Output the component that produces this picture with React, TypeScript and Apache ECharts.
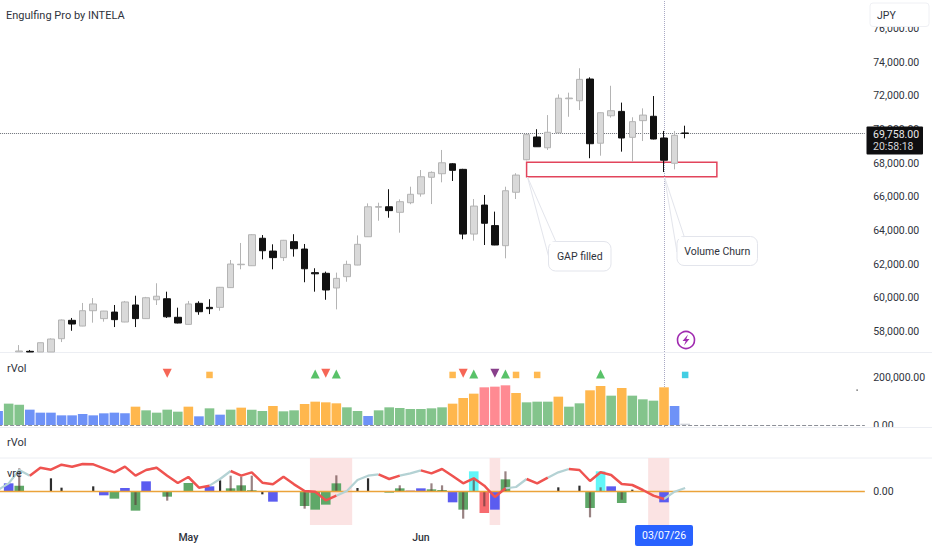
import React, { useEffect, useRef } from "react";
import * as echarts from "echarts";

const days = [
  "Apr 7","Apr 8","Apr 9","Apr 10","Apr 13","Apr 14","Apr 15","Apr 16","Apr 17","Apr 20","Apr 21","Apr 22","Apr 23","Apr 24","Apr 27","Apr 28","Apr 29","Apr 30",
  "May 1","May 4","May 5","May 6","May 7","May 8","May 11","May 12","May 13","May 14","May 15","May 18","May 19","May 20","May 21","May 22","May 25","May 26","May 27","May 28","May 29",
  "Jun 1","Jun 2","Jun 3","Jun 4","Jun 5","Jun 8","Jun 9","Jun 10","Jun 11","Jun 12","Jun 15","Jun 16","Jun 17","Jun 18","Jun 19","Jun 22","Jun 23","Jun 24","Jun 25","Jun 26","Jun 29","Jun 30",
  "Jul 1","Jul 2","Jul 3","Jul 6","Jul 7",
  "Jul 8","Jul 9","Jul 10","Jul 13","Jul 14","Jul 15","Jul 16","Jul 17","Jul 20","Jul 21","Jul 22","Jul 23","Jul 24","Jul 27","Jul 28","Jul 29","Jul 30",
];
const tickNames: Record<string, string> = { "May 1": "May", "Jun 2": "Jun", "Jul 3": "03/07/26" };
const priceTicks = [58000, 60000, 62000, 64000, 66000, 68000, 70000, 72000, 74000, 76000];
const volumeTicks = [0, 200000];
const lowerTicks = [0];
const lastPrice = 69758;
const crosshairDay = "Jul 3";

// open, close, low, high
const candles: any[] = [
  "-","-",
  [56800,56850,56790,57200],[56830,56790,56790,56910],[56790,57340,56790,57350],[56790,57560,56790,57600],
  [57580,58690,57380,58720],[58670,58450,58050,58810],[58330,59240,58320,59700],[59240,59640,58530,59990],
  [58770,59220,58590,59230],[59160,58710,58270,59580],[58570,59760,58560,59820],[59580,58770,58270,60130],
  [58770,60010,58760,60060],[59890,60100,59580,60870],[59950,58880,58810,60370],[58850,58510,58490,59420],
  [58430,59640,58420,59820],[59680,59180,59000,59800],[59440,59360,59040,59920],[59440,60630,59240,60650],
  [60610,62010,60590,62250],[61970,62000,61700,63260],[61910,63750,61900,63780],[63540,62800,62290,63730],
  [62780,62390,61700,63180],[62390,63420,62190,63440],[63340,62920,62450,63780],[62900,61730,60930,63200],
  [61500,61430,60370,61760],[61460,60470,59890,61560],[60590,61160,59320,61500],[61260,61990,60960,62210],
  [61950,63180,61940,63710],[63630,65410,63620,65610],[65380,65420,64580,65650],[65410,65180,64760,66450],
  [65080,65710,63870,65850],[65650,66150,65560,66600],[66170,67190,66010,67590],[67160,67450,65570,67510],
  [67370,68020,66860,68780],[67960,67570,66940,68000],[67630,63790,63480,67660],[63790,65450,63400,65870],
  [65510,64430,63140,66110],[64290,63140,63130,65120],[63100,66360,62350,66600],[66270,67290,65870,67400],
  [68200,69690,68160,69710],[69550,68970,68960,70010],[68910,69830,68780,70850],[69800,71850,69790,72080],
  [71820,71860,70750,72180],[71700,72970,71150,73630],[72990,69150,68290,73090],[69180,70990,68440,71010],
  [70810,71110,70700,72590],[71070,69490,68680,71590],[69530,70460,68080,70720],[70520,70850,69310,71250],
  [70780,69430,69410,71980],[69490,68170,67470,69910],[67990,69650,67630,69910],[69790,69758,69470,70220],
];

const volumes = [
  59700,90900,86550,65280,52500,52500,41100,41100,46800,41100,49650,52500,49650,78000,62400,52500,65280,56700,78000,36900,
  70950,43980,65280,73800,65280,59610,80880,58200,62400,89400,99300,96480,92250,75210,59610,38310,62400,75210,72360,68100,
  68100,70950,75210,90810,114900,133380,160350,163200,168870,136200,96480,99300,99300,120600,78000,92250,147600,166020,124860,157500,
  124860,109260,103590,160350,80880,5700,
];
// l = quiet, n = normal, h = high, x = extreme, f = forming
const volumeClass = "lnnllllllllllhnnnnhlnlnhnnhnnhhhhnnlnnnnnnnhhhxxxhnnnhnnhhnhnnnhlf";

const signalsUp = [30, 32, 45, 48, 57];
const signalsDown = [16, 31, 44];
const signalsPurple = [47];
const signalsSquare = [20, 43, 49, 51];
const signalsCyan = [65];
const signalUpLevel = 217000;
const signalDownLevel = 220000;
const signalSquareLevel = 213000;

const vreGreen = [[2,17],[11,-22],[13,-58],[16,-16],[18,25],[22,9],[23,18],[24,3],[29,-44],[30,-55],[31,-40],[32,24],[37,-4],[38,9],[41,6],[42,4],[44,-55],[48,36],[56,-50],[59,-35]];
const vreBlue = [[1,24],[10,-12],[12,10],[14,30],[20,15],[26,-31],[40,9],[43,-33],[47,-55],[58,15],[63,-33]];
const vreCyan = [[45,60],[57,60]];
const vreRed = [[46,-65]];
const vreMuted = [[39,3]];
const vreThin = [[2,69],[5,39],[6,11],[9,15],[13,-41],[16,-28],[21,33],[22,47],[23,44],[24,47],[25,-9],[29,-52],[32,48],[34,10],[35,39],[38,18],[41,24],[42,18],[44,-82],[45,36],[46,-45],[48,60],[53,12],[55,17],[56,-78],[57,12],[59,-25],[60,5]];

const vreLine = [4,24,64,47,71,65,80,74,82,81,69,57,74,47,64,71,47,25,43,11,17,37,61,47,57,26,21,44,21,1,-1,-27,-13,1,34,47,51,37,47,54,63,54,67,46,24,39,17,-17,9,13,37,24,41,57,67,64,31,57,49,22,19,4,-13,-23,-1,10];
// tone of the segment leaving each point: r = red, s = slate
const vreTone = "sssrrrrrsrrrrrsrrrrrssrrrrrrrrrrssssrrssrrrrrrrrssrrssrrrrrrrrrss";
const alertBands = [[30, 33], [47, 47], [62, 63]];

const fmt = (v: number) => v.toLocaleString("en-US", { minimumFractionDigits: 2, maximumFractionDigits: 2 });

const BAND = 10.57;
const LEFT = -7.185;
const FONT = "Roboto, 'Noto Sans', sans-serif";
const AXIS_TEXT = "#2f333c";
const CROSS = "#a9a9c4";
const NONE = { show: false };

const classColor: Record<string, string> = { l: "#6e92f7", n: "#83c48c", h: "#ffb74d", x: "#ff8a92", f: "#cfd2d8" };

function App() {
  const ref = useRef<HTMLDivElement>(null);
  useEffect(() => {
    const chart = echarts.init(ref.current!, null, { renderer: "svg" });
    const crossIdx = days.indexOf(crosshairDay);
    const lastIdx = days.length - 1;
    const grids = [
      { left: LEFT, top: 0, width: BAND * days.length, height: 352, outerBoundsMode: "none" },
      { left: LEFT, top: 353, width: BAND * days.length, height: 74, outerBoundsMode: "none" },
      { left: LEFT, top: 458, width: BAND * days.length, height: 67, outerBoundsMode: "none" },
    ];
    const xBase = (gridIndex: number) => ({
      type: "category" as const,
      data: days,
      gridIndex,
      boundaryGap: true,
      axisLine: NONE,
      axisTick: NONE,
      axisLabel: NONE,
      splitLine: NONE,
    });
    const yBase = (gridIndex: number, min: number, max: number, ticks: number[]) => ({
      type: "value" as const,
      gridIndex,
      min,
      max,
      position: "right" as const,
      axisLine: NONE,
      axisTick: NONE,
      splitLine: NONE,
      axisLabel: {
        customValues: ticks,
        margin: 3,
        color: AXIS_TEXT,
        fontSize: 10.5,
        fontFamily: FONT,
        formatter: (v: number) => fmt(v),
      },
    });
    const crossLine = {
      silent: true,
      symbol: "none",
      label: NONE,
      z: 0,
      lineStyle: { color: CROSS, type: "dotted", width: 1 },
      data: [{ xAxis: crossIdx }],
    };
    const wideMap = new Set<number>();
    const wideData: any[] = [];
    const addWide = (rows: number[][], color: string) =>
      rows.forEach(([k, v]) => {
        wideMap.add(k);
        wideData.push({ value: [k, v], itemStyle: { color } });
      });
    addWide(vreGreen, "#5fa868");
    addWide(vreBlue, "#5b5cf0");
    addWide(vreCyan, "#62f6f8");
    addWide(vreRed, "#f76b6f");
    addWide(vreMuted, "#b89bc0");
    const toned = (tone: string) =>
      vreLine.map((v, i) => (vreTone[i] === tone || (i > 0 && vreTone[i - 1] === tone) ? v : null));
    const scatter = (name: string, ks: number[], level: number, symbol: string, rotate: number, size: number, color: string) => ({
      name,
      type: "scatter" as const,
      xAxisIndex: 1,
      yAxisIndex: 1,
      symbol,
      symbolRotate: rotate,
      symbolSize: size,
      itemStyle: { color },
      z: 4,
      data: ks.map((k) => [k, level]),
    });

    const wedge = (pts: number[][]) => ({
      type: "polygon",
      z: 50,
      shape: { points: pts },
      style: { fill: "#ffffff", stroke: "#e3e5ec", lineWidth: 1 },
    });
    const bubble = (x: number, y: number, w: number, h: number, text: string) => [
      {
        type: "rect",
        z: 51,
        shape: { x, y, width: w, height: h, r: 7 },
        style: { fill: "#ffffff", stroke: "#e3e5ec", lineWidth: 1 },
      },
      {
        type: "text",
        z: 53,
        style: {
          x: x + w / 2,
          y: y + h / 2,
          text,
          fill: "#2f333c",
          fontSize: 10.5,
          fontFamily: FONT,
          align: "center",
          verticalAlign: "middle",
        },
      },
    ];
    const label = (x: number, y: number, text: string, fontSize = 11, fill = "#2f333c") => ({
      type: "text",
      z: 60,
      style: { x, y, text, fill, fontSize, fontFamily: FONT, verticalAlign: "middle" },
    });
    const sep = (y: number) => ({
      type: "line",
      z: 1,
      shape: { x1: 0, y1: y, x2: 932, y2: y },
      style: { stroke: "#eceef3", lineWidth: 1 },
    });

    chart.setOption({
      animation: false,
      backgroundColor: "#ffffff",
      grid: grids,
      xAxis: [
        xBase(0),
        xBase(1),
        {
          ...xBase(2),
          axisLabel: {
            show: true,
            margin: 0,
            fontFamily: FONT,
            interval: (_: number, v: string) => tickNames[v] !== undefined,
            formatter: (v: string) => (v === crosshairDay ? `{d|${tickNames[v]}}` : `{m|${tickNames[v]}}`),
            rich: {
              m: { color: "#2f333c", fontSize: 10.5, fontWeight: 500, height: 25, lineHeight: 25, fontFamily: FONT },
              d: {
                color: "#ffffff",
                backgroundColor: "#2962ff",
                fontSize: 10.5,
                width: 58,
                height: 21,
                lineHeight: 21,
                align: "center",
                borderRadius: 2,
                fontFamily: FONT,
              },
            },
          },
        },
        { ...xBase(2), position: "top" },
      ],
      yAxis: [
        yBase(0, 56790, 77680, priceTicks),
        yBase(1, -8510, 306380, volumeTicks),
        yBase(2, -101, 100, lowerTicks),
      ],
      series: [
        {
          name: "price cross",
          type: "line",
          xAxisIndex: 0,
          yAxisIndex: 0,
          data: [],
          z: 0,
          markLine: crossLine,
        },
        {
          name: "price",
          type: "candlestick",
          xAxisIndex: 0,
          yAxisIndex: 0,
          barWidth: 7,
          z: 3,
          itemStyle: { color: "#d9d9d9", color0: "#111111", borderColor: "#b4b4b4", borderColor0: "#111111", borderWidth: 1 },
          data: candles,
          markLine: {
            silent: true,
            symbol: "none",
            label: NONE,
            z: 1,
            data: [
              [
                { xAxis: 0, yAxis: lastPrice, lineStyle: { color: "#6a6e76", type: "dotted", width: 1 } },
                { xAxis: lastIdx, yAxis: lastPrice },
              ],
            ],
          },
          markArea: {
            silent: true,
            label: NONE,
            itemStyle: { color: "rgba(255,255,255,0)", borderColor: "#e2445c", borderWidth: 1.5 },
            data: [[{ xAxis: 50, yAxis: 68047 }, { xAxis: 68, yAxis: 67193 }]],
          },
        },
        {
          name: "rVol",
          type: "bar",
          xAxisIndex: 1,
          yAxisIndex: 1,
          barWidth: 9.6,
          z: 2,
          data: volumes.map((v, i) => ({ value: v, itemStyle: { color: classColor[volumeClass[i]] } })),
          markLine: {
            silent: true,
            symbol: "none",
            label: NONE,
            lineStyle: { color: "#8d9098", type: "dashed", width: 1 },
            data: [[{ xAxis: 0, yAxis: 0 }, { xAxis: lastIdx, yAxis: 0 }]],
          },
        },
        {
          name: "volume cross",
          type: "line",
          xAxisIndex: 1,
          yAxisIndex: 1,
          data: [],
          z: 0,
          markLine: crossLine,
        },
        scatter("up", signalsUp, signalUpLevel, "triangle", 0, 9, "#2fb344"),
        scatter("down", signalsDown, signalDownLevel, "triangle", 180, 9, "#f4402c"),
        scatter("purple", signalsPurple, signalDownLevel, "triangle", 180, 9, "#6a0f6e"),
        scatter("square", signalsSquare, signalSquareLevel, "rect", 0, 6.5, "#ffa726"),
        scatter("cyan", signalsCyan, signalSquareLevel, "rect", 0, 6.5, "#13c2dc"),
        {
          name: "alerts",
          type: "custom",
          xAxisIndex: 2,
          yAxisIndex: 2,
          z: 1,
          encode: { x: 0 },
          data: alertBands,
          renderItem: (params: any, api: any) => {
            const start = api.coord([api.value(0), 0]);
            const size = api.size([1, 0])[0];
            const count = api.value(1) - api.value(0) + 1;
            return {
              type: "rect",
              shape: {
                x: start[0] - size / 2,
                y: params.coordSys.y,
                width: size * count,
                height: params.coordSys.height,
              },
              style: { fill: "#fbe3e3" },
            };
          },
        },
        {
          name: "lower cross",
          type: "line",
          xAxisIndex: 2,
          yAxisIndex: 2,
          data: [],
          z: 1,
          markLine: { ...crossLine, z: 1 },
        },
        {
          name: "vre bars",
          type: "bar",
          xAxisIndex: 2,
          yAxisIndex: 2,
          barWidth: 9.6,
          z: 2,
          data: wideData,
        },
        {
          name: "zero",
          type: "line",
          xAxisIndex: 2,
          yAxisIndex: 2,
          data: [],
          z: 4,
          markLine: {
            silent: true,
            symbol: "none",
            label: NONE,
            z: 4,
            data: [
              [
                { xAxis: 0, yAxis: 0, lineStyle: { color: "#eba33a", type: "solid", width: 1.3 } },
                { xAxis: lastIdx, yAxis: 0 },
              ],
            ],
          },
        },
        {
          name: "vre thin",
          type: "bar",
          xAxisIndex: 3,
          yAxisIndex: 2,
          barWidth: 2.2,
          z: 3,
          data: vreThin.map(([k, v]) => ({
            value: [k, v],
            itemStyle: { color: wideMap.has(k) ? "rgba(90,55,55,0.62)" : "#2d2d2d" },
          })),
        },
        {
          name: "vre slate",
          type: "line",
          xAxisIndex: 2,
          yAxisIndex: 2,
          showSymbol: false,
          connectNulls: false,
          z: 5,
          lineStyle: { color: "#b4d2d4", width: 2.2 },
          data: toned("s"),
        },
        {
          name: "vre red",
          type: "line",
          xAxisIndex: 2,
          yAxisIndex: 2,
          showSymbol: false,
          connectNulls: false,
          z: 6,
          lineStyle: { color: "#ef5350", width: 2.5 },
          data: toned("r"),
        },
      ],
      graphic: [
        sep(352.5),
        sep(427.5),
        sep(458),
        wedge([[527.5, 177], [549, 258], [556, 242]]),
        ...bubble(548.5, 241.5, 62.5, 29.5, "GAP filled"),
        { type: "line", z: 52, shape: { x1: 549.5, y1: 243, x2: 555, y2: 243 }, style: { stroke: "#ffffff", lineWidth: 2 } },
        wedge([[664.5, 177], [677, 252], [684, 236]]),
        ...bubble(677, 236.5, 80.5, 29, "Volume Churn"),
        { type: "line", z: 52, shape: { x1: 678, y1: 238, x2: 683, y2: 238 }, style: { stroke: "#ffffff", lineWidth: 2 } },
        {
          type: "circle",
          z: 40,
          shape: { cx: 686, cy: 340, r: 8.5 },
          style: { fill: "#ffffff", stroke: "#a02bb0", lineWidth: 1.6 },
        },
        {
          type: "polygon",
          z: 41,
          shape: { points: [[688, 334.5], [682.5, 341], [685.7, 341], [684, 345.5], [689.5, 339], [686.3, 339]] },
          style: { fill: "#a02bb0" },
        },
        { type: "rect", z: 40, shape: { x: 856.5, y: 389.5, width: 1.2, height: 1.2 }, style: { fill: "#333333" } },
        { type: "rect", z: 40, shape: { x: 866, y: 428, width: 66, height: 8 }, style: { fill: "#ffffff" } },
        label(6, 15, "Engulfing Pro by INTELA", 11),
        label(7, 368, "rVol", 11),
        label(7, 442, "rVol", 11),
        label(7, 473, "vre", 11),
        {
          type: "rect",
          z: 58,
          shape: { x: 870, y: 3, width: 59, height: 23.5, r: 3 },
          style: { fill: "#ffffff", stroke: "#eff0f4", lineWidth: 1 },
        },
        label(877, 15, "JPY", 10.5),
        {
          type: "rect",
          z: 58,
          shape: { x: 866.5, y: 126.5, width: 56.5, height: 28, r: 1 },
          style: { fill: "#0e0e10" },
        },
        label(873, 134, fmt(lastPrice), 10.5, "#e8e8ea"),
        label(873, 146.5, "20:58:18", 10.5, "#d4d4d8"),
      ],
    });
    return () => chart.dispose();
  }, []);
  return <div ref={ref} style={{ position: "absolute", left: 0, top: 0, width: 932, height: 550, background: "#fff" }} />;
}

export default App;
